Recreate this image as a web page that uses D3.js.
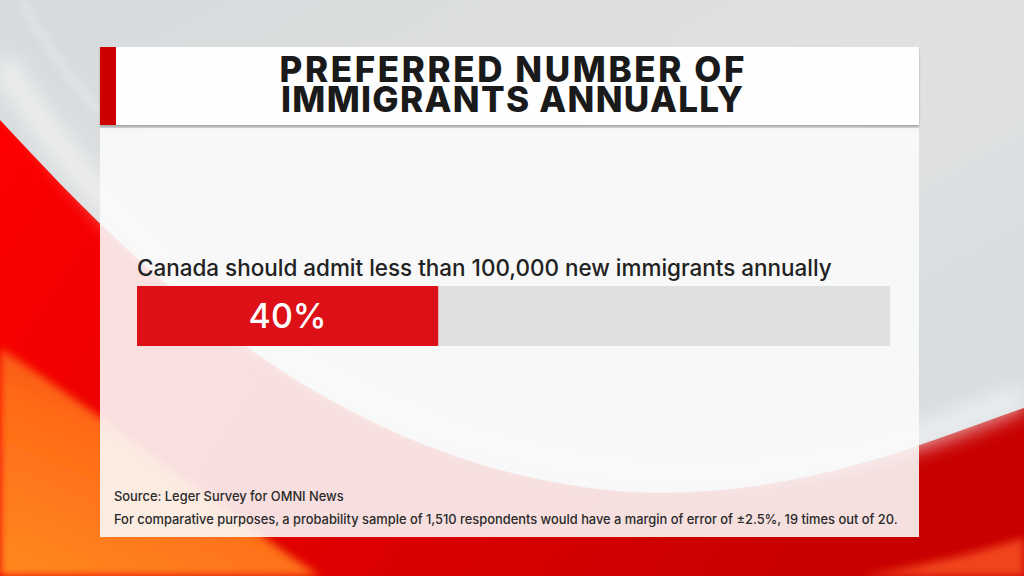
<!DOCTYPE html>
<html>
<head>
<meta charset="utf-8">
<script src="https://cdn.jsdelivr.net/npm/d3@7"></script>
<style>
  html, body { margin: 0; padding: 0; background: #dcdedf; }
  svg { display: block; }
</style>
</head>
<body>
<div id="chart-container"></div>
<script>
// chart data
const titleLines = ["PREFERRED NUMBER OF", "IMMIGRANTS ANNUALLY"];
const categories = ["Canada should admit less than 100,000 new immigrants annually"];
const values = [40];
const xDomain = [0, 100];
const footnotes = [
    "Source: Leger Survey for OMNI News",
    "For comparative purposes, a probability sample of 1,510 respondents would have a margin of error of \u00b12.5%, 19 times out of 20."
];

const svgWidth = 1024;
const svgHeight = 576;
const panel = { left: 100, right: 919, titleTop: 47, titleBottom: 125, bodyTop: 128, bodyBottom: 537 };

const svg = d3.select("#chart-container")
    .append("svg")
    .attr("width", svgWidth)
    .attr("height", svgHeight);

const defs = svg.append("defs");

// ---- background (broadcast swoosh) ----
const bgGrad = defs.append("linearGradient").attr("id", "bgGrad")
    .attr("x1", 0).attr("y1", 0).attr("x2", 1).attr("y2", 1);
bgGrad.append("stop").attr("offset", "0%").attr("stop-color", "#d7dadc");
bgGrad.append("stop").attr("offset", "50%").attr("stop-color", "#e0e1e2");
bgGrad.append("stop").attr("offset", "100%").attr("stop-color", "#d3d9de");

const redGrad = defs.append("linearGradient").attr("id", "redGrad")
    .attr("x1", 0).attr("y1", 0).attr("x2", 1).attr("y2", 0.3);
redGrad.append("stop").attr("offset", "0%").attr("stop-color", "#ff0000");
redGrad.append("stop").attr("offset", "35%").attr("stop-color", "#e80000");
redGrad.append("stop").attr("offset", "100%").attr("stop-color", "#c80000");

const orangeGrad = defs.append("linearGradient").attr("id", "orangeGrad")
    .attr("x1", 0).attr("y1", 1).attr("x2", 0.6).attr("y2", 0);
orangeGrad.append("stop").attr("offset", "0%").attr("stop-color", "#ff8a1e");
orangeGrad.append("stop").attr("offset", "60%").attr("stop-color", "#ff6a18");
orangeGrad.append("stop").attr("offset", "100%").attr("stop-color", "#f03a12");

defs.append("filter").attr("id", "soft")
    .append("feGaussianBlur").attr("stdDeviation", 4);
defs.append("filter").attr("id", "softer")
    .append("feGaussianBlur").attr("stdDeviation", 10);

svg.append("rect")
    .attr("width", svgWidth).attr("height", svgHeight)
    .attr("fill", "url(#bgGrad)");

// red sweep below the big grey disc
svg.append("path")
    .attr("d", "M0,120 C130,260 330,470 630,492 C800,500 930,440 1024,408 L1024,576 L0,576 Z")
    .attr("fill", "url(#redGrad)");

// orange sweep bottom-left
svg.append("path")
    .attr("d", "M0,348 C80,400 200,490 290,556 L320,576 L0,576 Z")
    .attr("fill", "url(#orangeGrad)")
    .attr("filter", "url(#soft)");

// orange band bottom-right
svg.append("path")
    .attr("d", "M860,576 C930,565 985,550 1024,538 L1024,576 Z")
    .attr("fill", "#f2451f")
    .attr("filter", "url(#soft)");

// light swoosh inside the grey disc
svg.append("path")
    .attr("d", "M0,60 C150,300 380,450 640,470 C820,480 940,430 1024,395")
    .attr("fill", "none")
    .attr("stroke", "#f4f5f6")
    .attr("stroke-width", 26)
    .attr("opacity", 0.7)
    .attr("filter", "url(#softer)");

// thin highlight arc top-left
svg.append("path")
    .attr("d", "M22,0 C45,45 70,80 100,112")
    .attr("fill", "none")
    .attr("stroke", "#eef0f1")
    .attr("stroke-width", 3)
    .attr("filter", "url(#soft)");

// ---- panels ----
defs.append("filter").attr("id", "shadow")
    .append("feDropShadow")
    .attr("dx", 0).attr("dy", 2).attr("stdDeviation", 1.2)
    .attr("flood-color", "#000").attr("flood-opacity", 0.25);

svg.append("rect")
    .attr("x", panel.left).attr("y", panel.bodyTop)
    .attr("width", panel.right - panel.left)
    .attr("height", panel.bodyBottom - panel.bodyTop)
    .attr("fill", "#fbfbfb")
    .attr("fill-opacity", 0.89);

svg.append("rect")
    .attr("x", panel.left).attr("y", panel.titleTop)
    .attr("width", panel.right - panel.left)
    .attr("height", panel.titleBottom - panel.titleTop)
    .attr("fill", "#fefefe")
    .attr("filter", "url(#shadow)");

svg.append("rect")
    .attr("x", panel.left).attr("y", panel.titleTop)
    .attr("width", 16)
    .attr("height", panel.titleBottom - panel.titleTop)
    .attr("fill", "#cc0000");

// title: one text per line, letter-spacing fitted to each line's width in the original
const titleWidths = [465, 462];
const titles = svg.selectAll("text.title")
    .data(titleLines)
    .enter()
    .append("text")
    .attr("class", "title")
    .attr("y", (d, i) => 82 + i * 30)
    .attr("text-anchor", "middle")
    .attr("font-family", "Inter, 'Noto Sans', sans-serif")
    .attr("font-weight", 800)
    .attr("font-size", 35)
    .attr("fill", "#1a1a1a")
    .text(d => d);
titles.each(function (d, i) {
    const ls = (titleWidths[i] - this.getComputedTextLength()) / (d.length - 1);
    d3.select(this).attr("letter-spacing", ls).attr("x", 512 + ls / 2);
});

// ---- bar ----
const xScale = d3.scaleLinear()
    .domain(xDomain)
    .range([137, 890]);

const yScale = d3.scaleBand()
    .domain(categories)
    .range([286, 346])
    .padding(0);

const rows = svg.selectAll("g.row")
    .data(categories)
    .enter()
    .append("g")
    .attr("class", "row");

rows.append("rect")
    .attr("x", xScale(xDomain[0]))
    .attr("y", d => yScale(d))
    .attr("width", xScale(xDomain[1]) - xScale(xDomain[0]))
    .attr("height", yScale.bandwidth())
    .attr("fill", "#dfe0e0");

rows.append("rect")
    .attr("x", xScale(0))
    .attr("y", d => yScale(d))
    .attr("width", (d, i) => xScale(values[i]) - xScale(0))
    .attr("height", yScale.bandwidth())
    .attr("fill", "#dc1016");

rows.append("text")
    .attr("x", (d, i) => (xScale(0) + xScale(values[i])) / 2)
    .attr("y", d => yScale(d) + yScale.bandwidth() / 2 + 12)
    .attr("text-anchor", "middle")
    .attr("font-family", "Inter, 'Noto Sans', sans-serif")
    .attr("font-weight", 500)
    .attr("font-size", 34)
    .attr("fill", "#ffffff")
    .text((d, i) => values[i] + "%");

const catLabels = rows.append("text")
    .attr("x", xScale(0))
    .attr("y", d => yScale(d) - 10)
    .attr("font-family", "Inter, 'Noto Sans', sans-serif")
    .attr("font-weight", 500)
    .attr("font-size", 22)
    .attr("fill", "#222")
    .text(d => d);
catLabels.each(function () {
    const w = this.getComputedTextLength();
    d3.select(this).attr("font-size", 22 * 695 / w);
});

// ---- footnotes ----
const foot = svg.selectAll("text.foot")
    .data(footnotes)
    .enter()
    .append("text")
    .attr("class", "foot")
    .attr("x", 114)
    .attr("y", (d, i) => 501 + i * 23)
    .attr("font-family", "Inter, 'Noto Sans', sans-serif")
    .attr("font-weight", 500)
    .attr("font-size", 13)
    .attr("fill", "#2a2a2a")
    .text(d => d);
const footW = foot.nodes()[1].getComputedTextLength();
foot.attr("font-size", 13 * 784 / footW);
</script>
</body>
</html>
